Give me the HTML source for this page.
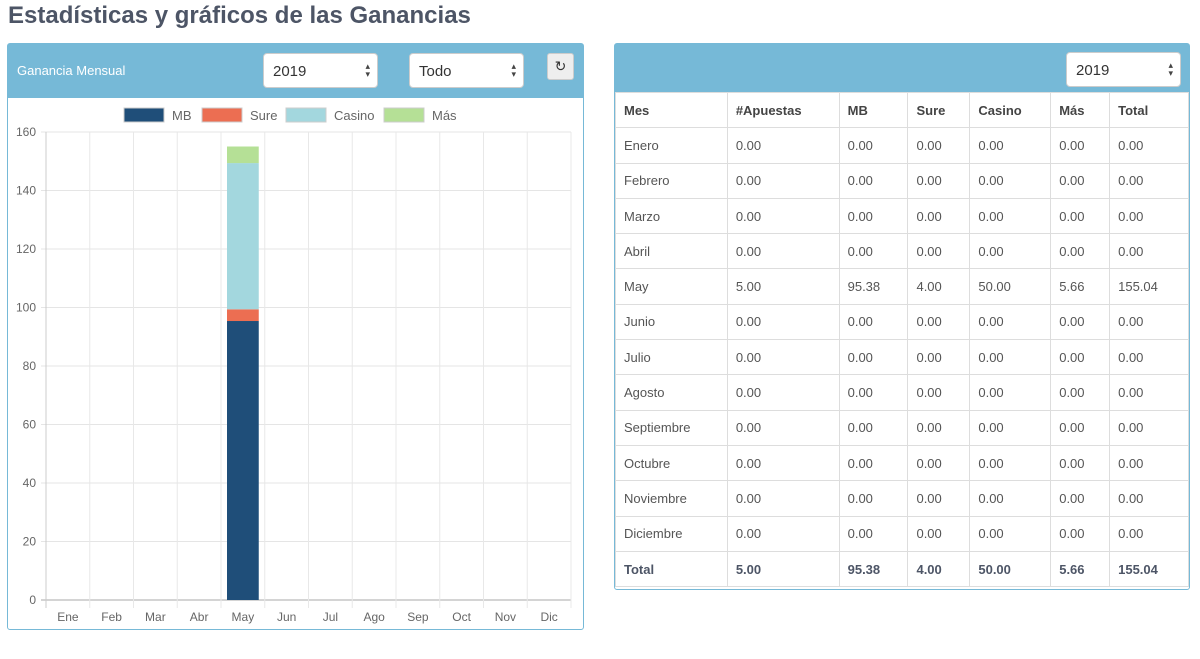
<!DOCTYPE html>
<html><head><meta charset="utf-8"><style>
*{box-sizing:border-box}
body{margin:0;width:1200px;height:659px;background:#fff;font-family:"Liberation Sans",sans-serif;color:#555;position:relative;overflow:hidden}
h1{position:absolute;left:8px;top:2px;margin:0;font-size:24px;font-weight:bold;color:#4d5566}
.panel{position:absolute;border:1px solid #76b9d7;border-radius:3px;background:#fff}
.phead{position:absolute;left:0;top:0;right:0;background:#76b9d7}
.sel{position:absolute;background:#fff;border:1px solid #ccc;border-radius:4px;font-size:15px;color:#333;padding:9px 0 0 9px}
.sel:after{content:"\25B4\A\25BE";white-space:pre;position:absolute;right:7px;top:8px;font-size:9px;line-height:8px;color:#444}
table{position:absolute;left:0;top:48px;border-collapse:collapse;font-size:13px;color:#555}
td,th{border:1px solid #ddd;height:35.3px;padding:0 8px;text-align:left}
th{font-weight:bold;color:#444}
tr.tot td{font-weight:bold;color:#4d5566}
</style></head><body>
<h1>Estadísticas y gráficos de las Ganancias</h1>
<div class="panel" style="left:7px;top:43px;width:577px;height:587px">
 <div class="phead" style="height:54px">
  <div style="position:absolute;left:9px;top:19px;color:#fff;font-size:13px">Ganancia Mensual</div>
  <div class="sel" style="left:255px;top:9px;width:115px;height:35px">2019</div>
  <div class="sel" style="left:401px;top:9px;width:115px;height:35px">Todo</div>
  <div style="position:absolute;left:539px;top:9px;width:27px;height:27px;background:#eee;border:1px solid #ccc;border-radius:3px;font-size:14px;text-align:center;line-height:25px;color:#333">&#x21bb;</div>
 </div>
</div>
<svg id="chart" width="1200" height="659" style="position:absolute;left:0;top:0"></svg>
<div class="panel" style="left:614px;top:43px;width:576px;height:547px">
 <div class="phead" style="height:48px">
  <div class="sel" style="left:451px;top:8px;width:115px;height:35px">2019</div>
 </div>
 <table id="tbl">
  <colgroup><col style="width:112px"><col style="width:112px"><col style="width:69px"><col style="width:62px"><col style="width:81px"><col style="width:59px"><col style="width:79px"></colgroup>
 </table>
</div>
<script>
const months=["Ene","Feb","Mar","Abr","May","Jun","Jul","Ago","Sep","Oct","Nov","Dic"];
const monthNames=["Enero","Febrero","Marzo","Abril","May","Junio","Julio","Agosto","Septiembre","Octubre","Noviembre","Diciembre"];
const apuestas=[0,0,0,0,5,0,0,0,0,0,0,0];
const mb=[0,0,0,0,95.38,0,0,0,0,0,0,0];
const sure=[0,0,0,0,4,0,0,0,0,0,0,0];
const casino=[0,0,0,0,50,0,0,0,0,0,0,0];
const mas=[0,0,0,0,5.66,0,0,0,0,0,0,0];
const yTicks=[0,20,40,60,80,100,120,140,160];
const seriesNames=["MB","Sure","Casino","Más"];
const colors=["#1f4e79","#ec6e52","#a3d7de","#b5e096"];

const NS="http://www.w3.org/2000/svg";
const svg=document.getElementById('chart');
const X0=46,X1=571,Y0=600,Y1=132,YMAX=160;
const bw=(X1-X0)/months.length;
const y=v=>Y0-(v/YMAX)*(Y0-Y1);
const x=i=>X0+i*bw;
function mk(t,a){const e=document.createElementNS(NS,t);for(const k in a)e.setAttribute(k,a[k]);svg.appendChild(e);return e;}
yTicks.forEach(t=>{
 const l=mk('line',{x1:X0-5,x2:X1,y1:y(t),y2:y(t),stroke:t===0?'#aaa':'#e5e5e5'});
 
 
 const tx=mk('text',{x:X0-10,y:y(t)+4,'text-anchor':'end','font-size':12,fill:'#666','font-family':'Liberation Sans'});
 tx.textContent=t;
 
 
});
for(let i=0;i<=months.length;i++){
 const l=mk('line',{x1:x(i),x2:x(i),y1:Y1,y2:Y0+8,stroke:i===0?'#ccc':'#e8e8e8'});
 
 
}
months.forEach((m,i)=>{
 const tx=mk('text',{x:x(i)+bw/2,y:Y0+21,'text-anchor':'middle','font-size':12,fill:'#666','font-family':'Liberation Sans'});
 tx.textContent=m;
 
 
});
const series=[mb,sure,casino,mas];
months.forEach((m,i)=>{
 let base=0;
 series.forEach((s,k)=>{
  const v=s[i];if(v<=0)return;
  const r=mk('rect',{x:x(i)+6,width:bw-12,y:y(base+v),height:y(base)-y(base+v),fill:colors[k]});
  
  
  base+=v;
 });
});
const lx=[124,202,286,384];
seriesNames.forEach((n,k)=>{
 const g=document.createElementNS(NS,'g');svg.appendChild(g);
 
 
 const r=document.createElementNS(NS,'rect');
 [['x',lx[k]],['y',108],['width',40],['height',14],['fill',colors[k]],['stroke','#ccc']].forEach(a=>r.setAttribute(a[0],a[1]));
 g.appendChild(r);
 const t=document.createElementNS(NS,'text');
 [['x',lx[k]+48],['y',120],['font-size',13],['fill','#666'],['font-family','Liberation Sans']].forEach(a=>t.setAttribute(a[0],a[1]));
 t.textContent=n;g.appendChild(t);
});
const tbl=document.getElementById('tbl');
const f=v=>v.toFixed(2);
let h='<tr><th>Mes</th><th>#Apuestas</th><th>MB</th><th>Sure</th><th>Casino</th><th>Más</th><th>Total</th></tr>';
const sum=a=>a.reduce((p,c)=>p+c,0);
monthNames.forEach((n,i)=>{
 const tot=mb[i]+sure[i]+casino[i]+mas[i];
 h+=`<tr><td>${n}</td><td>${f(apuestas[i])}</td><td>${f(mb[i])}</td><td>${f(sure[i])}</td><td>${f(casino[i])}</td><td>${f(mas[i])}</td><td>${f(tot)}</td></tr>`;
});
h+=`<tr class="tot"><td>Total</td><td>${f(sum(apuestas))}</td><td>${f(sum(mb))}</td><td>${f(sum(sure))}</td><td>${f(sum(casino))}</td><td>${f(sum(mas))}</td><td>${f(sum(mb)+sum(sure)+sum(casino)+sum(mas))}</td></tr>`;
tbl.insertAdjacentHTML('beforeend',h);
</script>
</body></html>
